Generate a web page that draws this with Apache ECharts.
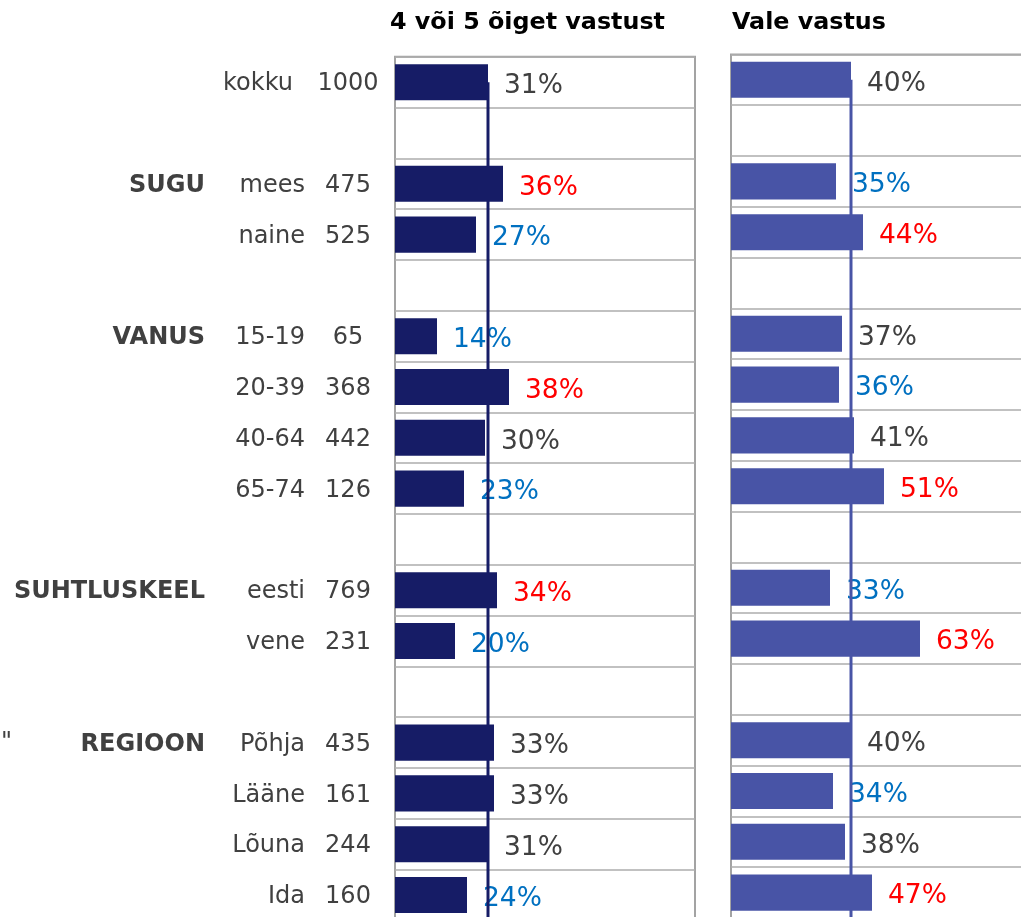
<!DOCTYPE html>
<html>
<head>
<meta charset="utf-8">
<script src="https://cdn.jsdelivr.net/npm/echarts@6/dist/echarts.min.js"></script>
<style>
  html, body { margin: 0; padding: 0; background: #ffffff; }
  #chart { width: 1021px; height: 917px; }
</style>
</head>
<body>
<div id="chart"></div>
<script>
// Row labels (blank strings are spacer rows between groups)
const groups    = ['', '', 'SUGU', '', '', 'VANUS', '', '', '', '', 'SUHTLUSKEEL', '', '', 'REGIOON', '', '', '', ''];
const subgroups = ['kokku', '', 'mees', 'naine', '', '15-19', '20-39', '40-64', '65-74', '', 'eesti', 'vene', '', 'Põhja', 'Lääne', 'Lõuna', 'Ida', ''];
const counts    = ['1000', '', '475', '525', '', '65', '368', '442', '126', '', '769', '231', '', '435', '161', '244', '160', ''];

// Shares in percent
const correctShare = [31, null, 36, 27, null, 14, 38, 30, 23, null, 34, 20, null, 33, 33, 31, 24, null];
const wrongShare   = [40, null, 35, 44, null, 37, 36, 41, 51, null, 33, 63, null, 40, 34, 38, 47, null];

// Difference from total: 'h' = higher, 'l' = lower, '' = no difference
const correctFlag = ['', '', 'h', 'l', '', 'l', 'h', '', 'l', '', 'h', 'l', '', '', '', '', 'l', ''];
const wrongFlag   = ['', '', 'l', 'h', '', '', 'l', '', 'h', '', 'l', 'h', '', '', 'l', '', 'h', ''];

// Totals drawn as reference lines
const correctTotal = 31;
const wrongTotal = 40;

const titles = ['4 või 5 õiget vastust', 'Vale vastus'];

const FONT = 'DejaVu Sans';
const TEXT = '#404040';
const flagColor = { h: '#FF0000', l: '#0070C0', '': TEXT };
const DARK = '#161C66';
const MID = '#4854A6';
const ROW_H = 50.8;
const GRID_H = ROW_H * subgroups.length;
const LABEL_SIZE = 24;

function barData(values, flags) {
  return values.map((v, i) => v == null ? '-' : { value: v, label: { color: flagColor[flags[i]] } });
}
function totalLine(total) {
  return subgroups.map(() => total);
}

// Row label style; the extra top padding nudges the text to the row's optical centre
function rowLabel(margin, align, bold, rightPad) {
  const base = { fontFamily: FONT, fontSize: LABEL_SIZE, color: TEXT, fontWeight: bold ? 'bold' : 'normal' };
  return {
    interval: 0, align: align, margin: margin,
    formatter: v => v === '' ? '' : (v === 'kokku' ? '{k|' + v + '}' : '{t|' + v + '}'),
    rich: {
      t: Object.assign({ padding: [4, 0, 0, 0] }, base),
      k: Object.assign({ padding: [4, rightPad || 0, 0, 0] }, base)
    }
  };
}

const valueLabel = {
  show: true,
  position: 'right',
  distance: 16,
  offset: [0, 4],
  formatter: '{c}%',
  fontFamily: FONT,
  fontSize: 26.5
};

const splitLine = { show: true, interval: 0, lineStyle: { color: '#ADADAD', width: 1.5 } };
const hidden = { show: false };
const titleStyle = { fontFamily: FONT, fontSize: 23.8, fontWeight: 'bold', color: '#000' };

const chart = echarts.init(document.getElementById('chart'), null, { renderer: 'canvas' });
chart.setOption({
  animation: false,
  backgroundColor: '#ffffff',
  title: [
    { text: titles[0], left: 390, top: 11, padding: 0, textStyle: titleStyle },
    { text: titles[1], left: 732, top: 11, padding: 0, textStyle: titleStyle }
  ],
  grid: [
    { left: 395, top: 56.8, width: 300, height: GRID_H, show: true, borderColor: '#A3A3A3', borderWidth: 2, outerBoundsMode: 'none', containLabel: false },
    { left: 731, top: 54.4, width: 300, height: GRID_H, show: true, borderColor: '#A3A3A3', borderWidth: 2, outerBoundsMode: 'none', containLabel: false }
  ],
  xAxis: [
    { type: 'value', gridIndex: 0, min: 0, max: 100, show: false },
    { type: 'value', gridIndex: 1, min: 0, max: 100, show: false }
  ],
  yAxis: [
    {
      type: 'category', gridIndex: 0, inverse: true, data: counts,
      axisLine: hidden, axisTick: hidden, splitLine: splitLine,
      axisLabel: rowLabel(47, 'center', false)
    },
    {
      type: 'category', gridIndex: 0, inverse: true, data: subgroups, position: 'left', offset: 0,
      axisLine: hidden, axisTick: hidden, splitLine: hidden,
      axisLabel: rowLabel(90, 'right', false, 12)
    },
    {
      type: 'category', gridIndex: 0, inverse: true, data: groups, position: 'left', offset: 0,
      axisLine: hidden, axisTick: hidden, splitLine: hidden,
      axisLabel: rowLabel(190, 'right', true)
    },
    {
      type: 'category', gridIndex: 1, inverse: true, data: counts,
      axisLine: hidden, axisTick: hidden, splitLine: splitLine, axisLabel: hidden
    }
  ],
  series: [
    {
      type: 'bar', xAxisIndex: 0, yAxisIndex: 0, data: barData(correctShare, correctFlag),
      barCategoryGap: '29%', itemStyle: { color: DARK }, label: valueLabel, z: 2
    },
    {
      type: 'line', xAxisIndex: 0, yAxisIndex: 0, data: totalLine(correctTotal),
      symbol: 'none', lineStyle: { color: DARK, width: 3 }, z: 3, silent: true
    },
    {
      type: 'bar', xAxisIndex: 1, yAxisIndex: 3, data: barData(wrongShare, wrongFlag),
      barCategoryGap: '29%', itemStyle: { color: MID }, label: valueLabel, z: 2
    },
    {
      type: 'line', xAxisIndex: 1, yAxisIndex: 3, data: totalLine(wrongTotal),
      symbol: 'none', lineStyle: { color: MID, width: 3 }, z: 3, silent: true
    }
  ],
  graphic: [
    {
      type: 'text', right: 1009, top: 731,
      style: { text: '0"', font: '24px "DejaVu Sans"', fill: TEXT, textAlign: 'right' }
    }
  ]
});
</script>
</body>
</html>
